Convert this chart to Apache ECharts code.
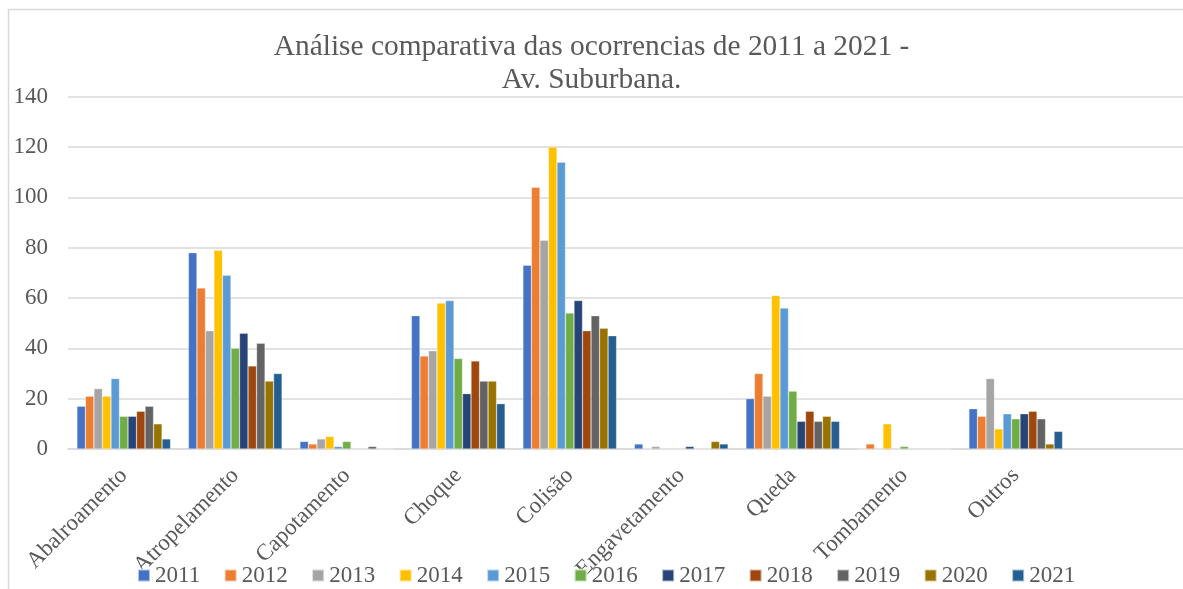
<!DOCTYPE html>
<html>
<head>
<meta charset="utf-8">
<script src="https://cdn.jsdelivr.net/npm/echarts@6/dist/echarts.min.js"></script>
<style>
html,body{margin:0;padding:0;background:#fff;}
#c{width:1183px;height:589px;}
</style>
</head>
<body>
<div id="c"></div>
<script>
const categories = ['Abalroamento','Atropelamento','Capotamento','Choque','Colisão','Engavetamento','Queda','Tombamento','Outros'];
const years = ['2011','2012','2013','2014','2015','2016','2017','2018','2019','2020','2021'];
const v2011 = [17, 78, 3, 53, 73, 2, 20, 0, 16];
const v2012 = [21, 64, 2, 37, 104, 0, 30, 2, 13];
const v2013 = [24, 47, 4, 39, 83, 1, 21, 0, 28];
const v2014 = [21, 79, 5, 58, 120, 0, 61, 10, 8];
const v2015 = [28, 69, 1, 59, 114, 0, 56, 0, 14];
const v2016 = [13, 40, 3, 36, 54, 0, 23, 1, 12];
const v2017 = [13, 46, 0, 22, 59, 1, 11, 0, 14];
const v2018 = [15, 33, 0, 35, 47, 0, 15, 0, 15];
const v2019 = [17, 42, 1, 27, 53, 0, 11, 0, 12];
const v2020 = [10, 27, 0, 27, 48, 3, 13, 0, 2];
const v2021 = [4, 30, 0, 18, 45, 2, 11, 0, 7];
const values = [v2011, v2012, v2013, v2014, v2015, v2016, v2017, v2018, v2019, v2020, v2021];
const colors = ['#4472C4','#ED7D31','#A5A5A5','#FFC000','#5B9BD5','#70AD47','#264478','#9E480E','#636363','#997300','#255E91'];
const yTicks = [0, 20, 40, 60, 80, 100, 120, 140];

const serif = '"Liberation Serif", "DejaVu Serif", serif';
const textColor = '#595959';

const chart = echarts.init(document.getElementById('c'), null, {renderer: 'canvas'});
chart.setOption({
  animation: false,
  color: colors,
  textStyle: {fontFamily: serif, color: textColor},
  title: {
    text: 'Análise comparativa das ocorrencias de 2011 a 2021 -\nAv. Suburbana.',
    left: 'center',
    top: 26,
    textStyle: {fontFamily: serif, fontSize: 29.4, fontWeight: 'normal', color: textColor, lineHeight: 33}
  },
  graphic: [{
    type: 'rect',
    shape: {x: 8.5, y: 9.5, width: 1400, height: 800},
    style: {fill: 'none', stroke: '#d9d9d9', lineWidth: 1.5},
    silent: true
  }],
  legend: {
    data: years,
    top: 559,
    left: 132,
    itemWidth: 12,
    itemHeight: 12,
    itemGap: 23.5,
    icon: 'rect',
    formatter: '{y|{name}}',
    textStyle: {
      fontFamily: serif, fontSize: 23, color: textColor,
      rich: {y: {fontFamily: serif, fontSize: 23, color: textColor}}
    }
  },
  grid: {left: 68, right: -5, top: 96.7, bottom: 140, containLabel: false},
  xAxis: {
    type: 'category',
    data: categories,
    max: categories.length,
    axisLine: {show: true, lineStyle: {color: '#d9d9d9', width: 1.5}},
    axisTick: {show: false},
    axisLabel: {rotate: 45, fontFamily: serif, fontSize: 23, color: textColor, margin: 23, interval: 0}
  },
  yAxis: {
    type: 'value',
    min: yTicks[0],
    max: yTicks[yTicks.length - 1],
    interval: 20,
    axisLine: {show: false},
    axisTick: {show: false},
    splitLine: {lineStyle: {color: '#d9d9d9', width: 1.5}},
    axisLabel: {fontFamily: serif, fontSize: 23, color: textColor, margin: 20}
  },
  series: years.map((y, i) => ({
    name: y,
    type: 'bar',
    data: values[i],
    barGap: '0%',
    barCategoryGap: '16%',
    itemStyle: {color: colors[i], borderColor: 'rgba(255,255,255,0.6)', borderWidth: 0.5}
  }))
});
</script>
</body>
</html>
